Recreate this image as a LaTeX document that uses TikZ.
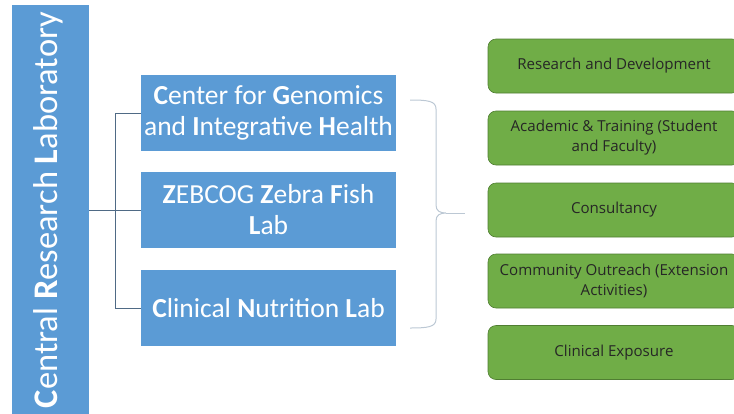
\documentclass[tikz,border=0pt]{standalone}
\usepackage{fontspec}
\setmainfont{Carlito}
\newfontfamily\actfont{Open Sans}
\begin{document}
\definecolor{labblue}{HTML}{5B9BD5}
\definecolor{labgreen}{HTML}{70AD47}
\definecolor{greenedge}{HTML}{507E32}
\definecolor{linkgray}{HTML}{4F6A85}
\definecolor{bracegray}{HTML}{BCC8D4}
\definecolor{darktext}{HTML}{262626}
\begin{tikzpicture}[x=1pt,y=-1pt,
  labbox/.style={fill=labblue, draw=none, text=white, minimum width=255pt,
    minimum height=76pt, align=center, inner sep=0pt,
    font=\fontsize{27.5}{31}\selectfont},
  activity/.style={fill=labgreen, draw=greenedge, line width=0.6pt,
    rounded corners=8pt, text=darktext, minimum width=252pt,
    minimum height=54pt, align=center, inner sep=0pt,
    font=\actfont\fontsize{15.1}{20}\selectfont},
  link/.style={draw=linkgray, line width=0.8pt},
  bracket/.style={draw=bracegray, line width=1pt}]
\useasboundingbox (0,0) rectangle (734,413);
\begin{scope}
\clip (0,0) rectangle (734,413);
% main laboratory bar
\node[fill=labblue, minimum width=77pt, minimum height=410pt, inner sep=0pt]
  (crl) at (50.5,210) {};
\node[rotate=90, text=white, font=\fontsize{34.5}{40}\selectfont, anchor=center]
  (crltext) at (48,210) {\textbf{C}entral \textbf{R}esearch \textbf{L}aboratory};
% constituent labs
\node[labbox] (lab1) at (268.5,113) {\textbf{C}enter for \textbf{G}enomics\\and \textbf{I}ntegrative \textbf{H}ealth};
\node[labbox] (lab2) at (268.5,210) {\textbf{Z}EBCOG \textbf{Z}ebra \textbf{F}ish\\\textbf{L}ab};
\node[labbox] (lab3) at (268.5,308) {\textbf{C}linical \textbf{N}utrition \textbf{L}ab};
% tree connectors
\coordinate (trunk) at (115,210);
\draw[link] (crl.east |- lab2) -- (lab2.west);
\draw[link] (lab1.west) -- (trunk |- lab1) -- (trunk |- lab3) -- (lab3.west);
% activities
\node[activity] (act1) at (614,66) {Research and Development};
\node[activity] (act2) at (614,138) {Academic \& Training (Student\\and Faculty)};
\node[activity] (act3) at (614,210) {Consultancy};
\node[activity] (act4) at (614,281) {Community Outreach (Extension\\Activities)};
\node[activity] (act5) at (614,352.5) {Clinical Exposure};
% brace grouping the labs
\coordinate (bracetip) at (446,213);
\coordinate (braceend) at (465,213);
\draw[bracket] (410,100) .. controls (428,100) and (436,101) .. (436,109)
  -- (436,205) .. controls (436,211) and (440,213) .. (bracetip)
  .. controls (440,213) and (436,215) .. (436,221)
  -- (436,319) .. controls (436,327) and (428,328) .. (410,328);
\draw[bracket] (bracetip) -- (braceend);
\end{scope}
\end{tikzpicture}
\end{document}
